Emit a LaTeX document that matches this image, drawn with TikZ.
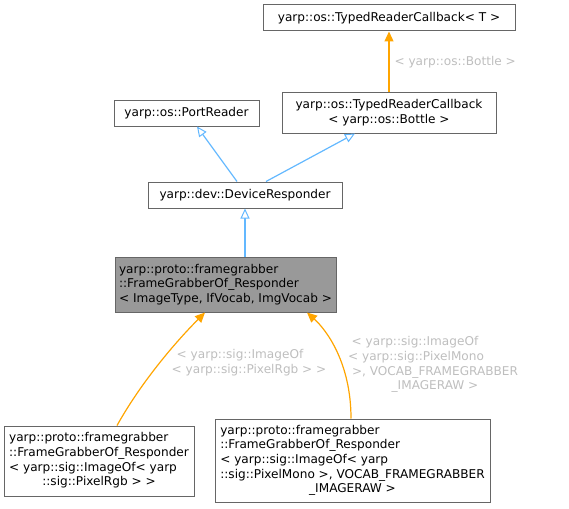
\documentclass[tikz,border=0pt]{standalone}
\usepackage{fontspec}
\setmainfont{DejaVu Sans}
\usepackage{tikz}
\usetikzlibrary{arrows.meta, positioning, calc}
\usepackage{xcolor}
\definecolor{edgeblue}{HTML}{63B8FF}
\definecolor{edgeorange}{HTML}{FFA500}
\definecolor{labelgrey}{HTML}{BEBEBE}
\definecolor{boxgrey}{HTML}{666666}
\definecolor{fillgrey}{HTML}{999999}
\tikzstyle{inherit} = [draw=edgeblue, line width=1.2pt, -{Triangle[open, length=10pt, width=9pt, fill=white, line width=1pt]}]
\tikzstyle{tmpl} = [draw=edgeorange, line width=1.2pt, -{Triangle[length=10pt, width=9pt, fill=edgeorange]}]

\begin{document}
\begin{tikzpicture}[x=1pt, y=-1pt, every node/.style={font=\fontsize{12.1}{14.7}\selectfont}]
    % Define styles correctly using \tikzset
    \tikzset{
        cls/.style={rectangle, draw=boxgrey, line width=1pt, fill=white, inner xsep=4pt, inner ysep=0pt, align=left},
        cls_main/.style={cls, fill=fillgrey},
        tlabel/.style={text=labelgrey, align=center, inner sep=0pt}
    }
    \useasboundingbox (0,0) rectangle (569,508);

    % --- BASE CLASSES ---
    % T: templated callback
    \node (T) [cls, minimum width=252pt, minimum height=26pt, align=center] at (389,18) {yarp::os::TypedReaderCallback< T >};

    % P: port reader
    \node (P) [cls, minimum width=145pt, minimum height=26pt, align=center] at (186.5,113) {yarp::os::PortReader};

    % B: callback on Bottle
    \node (B) [cls, minimum width=214pt, minimum height=40pt, align=center] at (389,113) {yarp::os::TypedReaderCallback\\< yarp::os::Bottle >};

    % D: device responder
    \node (D) [cls, minimum width=194pt, minimum height=26pt, align=center] at (245,195) {yarp::dev::DeviceResponder};

    % --- THE CLASS ---
    \node (M) [cls_main, minimum width=221pt, minimum height=55pt] at (225.5,284.5) {yarp::proto::framegrabber\\::FrameGrabberOf\_Responder\\< ImageType, IfVocab, ImgVocab >};

    % --- SPECIALISATIONS ---
    % L: Rgb
    \node (L) [cls, minimum width=190pt, minimum height=70pt] at (99,461) {\begin{tabular}{@{}l@{}}yarp::proto::framegrabber\\::FrameGrabberOf\_Responder\\< yarp::sig::ImageOf< yarp\\\multicolumn{1}{@{}c@{}}{::sig::PixelRgb > >}\end{tabular}};

    % R: Mono
    \node (R) [cls, minimum width=275pt, minimum height=83pt] at (352.5,460.5) {\begin{tabular}{@{}l@{}}yarp::proto::framegrabber\\::FrameGrabberOf\_Responder\\< yarp::sig::ImageOf< yarp\\::sig::PixelMono >, VOCAB\_FRAMEGRABBER\\\multicolumn{1}{@{}c@{}}{\_IMAGERAW >}\end{tabular}};

    % Connections
    \draw[tmpl] (B.north) -- node[tlabel, right=5pt, pos=0.5]{< yarp::os::Bottle >} (T.south);
    \draw[inherit] ([xshift=-8pt]D.north) -- ([xshift=10.5pt]P.south);
    \draw[inherit] ([xshift=21pt]D.north) -- ([xshift=-34pt]B.south);
    \draw[inherit] ([xshift=19.5pt]M.north) -- (D.south);
    \draw[tmpl] ([xshift=18pt]L.north) .. controls +(28,-50) and +(-22,22) .. ([xshift=-20.5pt]M.south);
    \draw[tmpl] ([xshift=-1.5pt]R.north) .. controls +(0,-55) and +(20,18) .. ([xshift=81.5pt]M.south);

    % template arguments
    \node (lL) [tlabel] at (249,363) {< yarp::sig::ImageOf\kern18pt\\< yarp::sig::PixelRgb > >};
    \node (lR) [tlabel] at (435,364.5) {< yarp::sig::ImageOf\kern40pt\\< yarp::sig::PixelMono\kern38pt\\>, VOCAB\_FRAMEGRABBER\\\_IMAGERAW >};

\end{tikzpicture}
\end{document}
